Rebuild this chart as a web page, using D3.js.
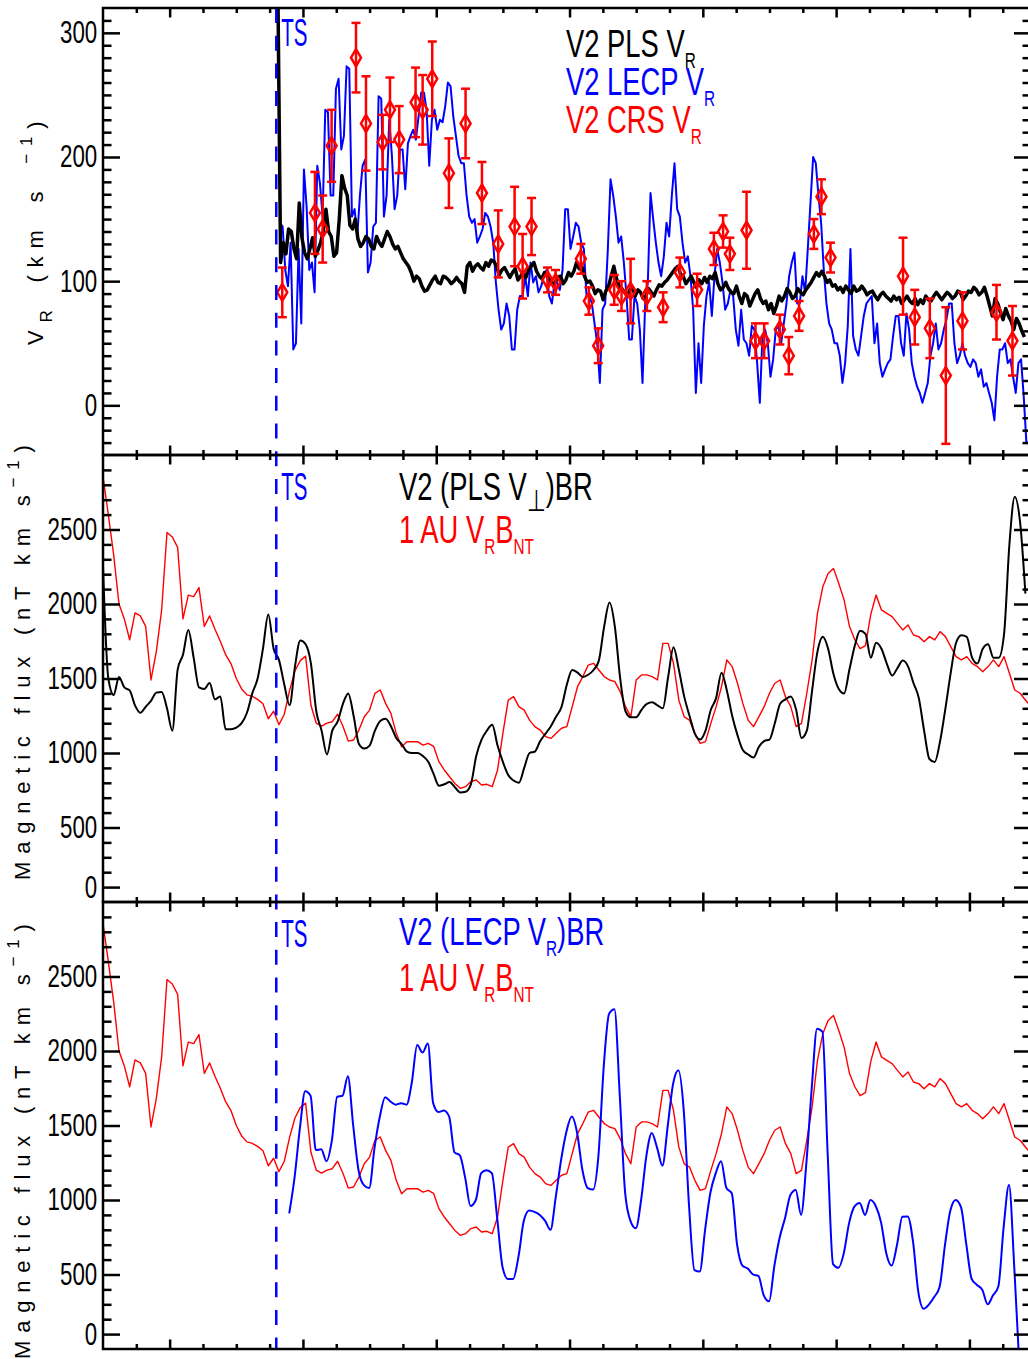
<!DOCTYPE html>
<html>
<head>
<meta charset="utf-8">
<script src="https://cdn.jsdelivr.net/npm/d3@7"></script>
<style>
  body { margin: 0; background: #fff; }
  .narrow { font-family: "Liberation Sans", Arial, sans-serif; }
  .title { font-family: "Liberation Sans", Arial, sans-serif; }
</style>
</head>
<body>
<svg id="chart" width="1028" height="1359"></svg>
<script>
// ---- data (time in years) ----
var tsTime = 2007.80;

// V2 PLS radial speed (km/s), one sample every 0.02 yr
var plsStart = 2007.8125, plsStep = 0.02;
var plsVR = [330, 115, 131, 122, 142, 140, 126, 118, 163, 135, 123, 118, 126, 135, 120, 125, 131, 140, 158, 140,
  136, 120, 123, 150, 185, 175, 169, 145, 142, 150, 134, 128, 131, 136, 134, 128, 126, 136, 131, 128,
  134, 140, 136, 130, 126, 128, 123, 118, 115, 112, 107, 100, 104, 102, 96, 92, 93, 97, 101, 104,
  99, 98, 104, 103, 101, 98, 100, 103, 100, 98, 91, 112, 115, 108, 112, 114, 111, 109, 115, 112,
  117, 116, 112, 105, 109, 111, 107, 103, 107, 110, 101, 104, 107, 103, 109, 112, 115, 108, 104, 102,
  107, 104, 101, 98, 99, 103, 104, 98, 101, 107, 104, 108, 115, 110, 112, 104, 99, 100, 96, 90,
  93, 92, 85, 92, 96, 104, 112, 102, 96, 94, 91, 88, 93, 95, 88, 93, 91, 86, 88,
  94, 91, 88, 93, 97, 96, 99, 101, 104, 107, 110, 112, 106, 104, 98, 101, 104, 99, 95, 101,
  98, 103, 99, 104, 102, 107, 98, 93, 95, 99, 94, 91, 90, 96, 88, 82, 90, 88, 80, 85,
  90, 93, 86, 82, 84, 77, 82, 74, 80, 88, 84, 88, 94, 91, 86, 88, 94, 91, 89, 93,
  96, 99, 103, 107, 104, 108, 104, 99, 101, 96, 97, 93, 95, 91, 96, 93, 90, 96, 92, 93,
  96, 93, 89, 91, 92, 88, 85, 89, 91, 88, 86, 84, 88, 85, 87, 82, 85, 88, 84, 82,
  86, 81, 85, 82, 88, 85, 84, 88, 91, 88, 85, 88, 91, 89, 86, 88, 92, 91, 85, 88,
  92, 91, 95, 93, 89, 91, 95, 88, 80, 72, 86, 82, 75, 69, 78, 72, 68, 61, 70, 66, 60, 55];

// V2 LECP radial speed (km/s), one sample every 0.02 yr
var lecpStart = 2007.8275, lecpStep = 0.02;
var lecpVR = [147, 144, 109, 96, 131, 45, 50, 126, 66, 190, 160, 109, 115, 91, 193, 179, 152, 238, 236, 169,
  169, 255, 263, 206, 217, 273, 271, 152, 158, 136, 169, 193, 198, 107, 115, 144, 147, 249, 247, 152,
  169, 230, 201, 158, 169, 206, 206, 174, 211, 217, 222, 214, 233, 252, 252, 238, 193, 230, 238, 222,
  230, 228, 241, 260, 257, 233, 217, 201, 195, 195, 169, 152, 147, 150, 131, 136, 142, 155, 152, 144,
  131, 99, 77, 61, 66, 82, 72, 45, 45, 77, 88, 88, 104, 88, 115, 99, 104, 91, 96, 104,
  109, 88, 82, 99, 99, 93, 109, 158, 158, 126, 136, 147, 144, 131, 126, 88, 88, 82, 66, 50,
  18, 77, 82, 126, 182, 169, 152, 131, 136, 115, 88, 53, 53, 88, 82, 61, 18, 82, 99,
  171, 150, 131, 115, 104, 120, 147, 136, 169, 195, 158, 152, 131, 115, 120, 104, 77, 10, 50, 18,
  64, 88, 99, 72, 104, 126, 115, 99, 77, 82, 93, 88, 61, 48, 77, 53, 50, 40, 64, 61,
  34, 2, 56, 61, 50, 23, 37, 61, 64, 50, 66, 82, 104, 115, 123, 82, 82, 104, 91, 126,
  163, 200, 195, 169, 147, 109, 82, 66, 61, 50, 50, 40, 18, 34, 64, 126, 56, 45, 40, 56,
  72, 82, 85, 88, 50, 66, 34, 23, 29, 34, 37, 56, 72, 72, 50, 40, 74, 61, 34, 23,
  15, 10, 2, 10, 18, 40, 50, 66, 45, 50, 61, 69, 82, 82, 50, 34, 40, 50, 40, 34,
  31, 37, 34, 23, 29, 15, 18, 10, 2, -12, 23, 45, 45, 50, 34, 37, 23, 10, 34, 37, 7, -30, -30, -30];

// V2 CRS radial speed with error bars
var crsTime = [2007.845, 2008.09, 2008.148, 2008.215, 2008.398, 2008.473, 2008.598, 2008.653, 2008.722, 2008.845,
  2008.898, 2008.97, 2009.095, 2009.22, 2009.343, 2009.465, 2009.588, 2009.648, 2009.715, 2009.835,
  2009.895, 2010.085, 2010.145, 2010.215, 2010.335, 2010.39, 2010.458, 2010.58, 2010.702, 2010.828,
  2010.957, 2011.083, 2011.152, 2011.203, 2011.328, 2011.395, 2011.46, 2011.578, 2011.645, 2011.722,
  2011.833, 2011.89, 2011.958, 2012.502, 2012.59, 2012.703, 2012.823, 2012.948, 2013.203, 2013.323];
var crsVR = [91, 155, 142, 209, 280, 227, 212, 238, 214, 244,
  238, 263, 187, 227, 171, 130, 144, 112, 144, 101,
  99, 118, 84, 48, 93, 88, 92, 88, 79, 107,
  93, 126, 140, 122, 141, 52, 52, 61, 40, 72,
  138, 168, 119, 104, 71, 62, 24, 68, 75, 52];
var crsErr = [20, 33, 27, 29, 28, 38, 22, 26, 27, 28,
  28, 30, 28, 28, 25, 27, 32, 26, 23, 10,
  10, 12, 11, 14, 12, 12, 26, 12, 12, 12,
  13, 13, 13, 13, 31, 14, 14, 12, 15, 12,
  12, 14, 12, 31, 22, 24, 55, 23, 22, 28];

// magnetic flux (nT km/s), one sample every 0.04 yr
var fluxStep = 0.04;
var fluxStart = 2006.5;
var plsPerpBR = [2250, 1500, 1390, 1510, 1440, 1420, 1320, 1270, 1310, 1350, 1405, 1410, 1300, 1150, 1560, 1660, 1825, 1640, 1440, 1430,
  1470, 1360, 1380, 1160, 1160, 1170, 1200, 1270, 1400, 1500, 1700, 1930, 1700, 1625, 1460, 1320, 1580, 1755, 1730, 1600,
  1280, 1150, 990, 1150, 1210, 1330, 1400,
  1250, 1060, 1030, 1050, 1150, 1215, 1230, 1180, 1100, 1060, 1010, 1000, 1000, 980, 942, 860, 780, 790, 805, 770,
  735, 740, 790, 980, 1090, 1150, 1190, 1050, 940, 852, 815, 800, 900, 1000, 1010, 1080, 1130, 1180, 1245, 1310,
  1460, 1557, 1540, 1510, 1525, 1557, 1620, 1850, 2010, 1848, 1500, 1280, 1240, 1240, 1290, 1330, 1340, 1320, 1300, 1512,
  1710, 1560, 1380, 1250, 1130, 1090, 1150, 1290, 1370, 1539, 1420, 1250, 1120, 1020, 990, 970, 1040, 1080, 1090, 1200,
  1330, 1360, 1380, 1290, 1100, 1150, 1420, 1680, 1780, 1700, 1530, 1430, 1400, 1560, 1720, 1820, 1800, 1640, 1740, 1700,
  1600, 1520, 1570, 1620, 1580, 1470, 1370, 1150, 960, 940, 1080, 1300, 1540, 1740, 1790, 1780, 1640, 1600, 1700, 1730,
  1640, 1640, 1800, 2400, 2720, 2550, 2070];

var au1VRBNT = [2855, 2600, 2330, 2000, 1900, 1760, 1940, 1920, 1850, 1490, 1680, 1960, 2480, 2450, 2380, 1900, 2060, 2050, 2110, 1850,
  1920, 1830, 1750, 1660, 1600, 1500, 1430, 1390, 1380, 1360, 1330, 1230, 1280, 1190, 1260, 1420, 1550, 1620, 1650, 1320,
  1200, 1180, 1200, 1210, 1260, 1180, 1080,
  1087, 1154, 1243, 1288, 1400, 1423, 1333, 1266, 1132, 1042, 1076, 1076, 1076, 1053, 1065, 1045, 942, 886, 841, 796,
  763, 774, 808, 819, 785, 790, 774, 886, 1132, 1355, 1378, 1311, 1288, 1221, 1177, 1154, 1110, 1098, 1132, 1166,
  1177, 1311, 1445, 1513, 1590, 1602, 1557, 1513, 1490, 1479, 1412, 1311, 1243, 1490, 1524, 1524, 1513, 1490, 1736, 1736,
  1602, 1355, 1243, 1221, 1132, 1065, 1076, 1199, 1311, 1445, 1625, 1580, 1468, 1333, 1221, 1177, 1243, 1311, 1401, 1468,
  1490, 1378, 1311, 1177, 1199, 1401, 1625, 1937, 2115, 2205, 2239, 2138, 2026, 1850, 1760, 1700, 1720, 1930, 2060, 1960,
  1937, 1915, 1870, 1826, 1859, 1792, 1781, 1747, 1781, 1759, 1815, 1781, 1714, 1647, 1625, 1647, 1602, 1580, 1546, 1580,
  1625, 1580, 1647, 1535, 1423, 1401, 1356, 1311];

var lecpStartBR = 2007.897;
var lecpVRBR = [910, 1150, 1480, 1730, 1700, 1335, 1340, 1260, 1400, 1693, 1700, 1830, 1500, 1200, 1100, 1080, 1350, 1560, 1690, 1660,
  1640, 1650, 1640, 1790, 2040, 1990, 2050, 1650, 1590, 1600, 1559, 1320, 1300, 1150, 960, 1000, 1180, 1200, 1180, 880,
  552, 470, 470, 620, 860, 930, 920, 900, 860, 800, 1022, 1270, 1460, 1560, 1450, 1200, 1080, 1070, 1300, 1900,
  2250, 2280, 1700, 1050, 860, 810, 1000, 1300, 1450, 1350, 1230, 1500, 1780, 1870, 1600, 955, 530, 520, 800, 1050,
  1180, 1260, 1080, 1045, 700, 560, 540, 500, 490, 360, 320, 560, 750, 880, 1033, 1067, 900, 1250, 1750, 2150,
  2130, 1300, 570, 545, 640, 843, 955, 980, 900, 1000, 960, 850, 640, 560, 700, 888, 890, 720, 380, 270,
  300, 350, 420, 700, 930, 1000, 950, 700, 470, 430, 396, 300, 360, 420, 820, 1100, 540, -150];

// ticks
var xMajorTicks = [2007, 2008, 2009, 2010, 2011, 2012, 2013];
var vrTickVals = [0, 100, 200, 300];
var vrTickLabels = ["0", "100", "200", "300"];
var fluxTickVals = [100, 500, 1000, 1500, 2000, 2500];
var fluxTickLabels = ["0", "500", "1000", "1500", "2000", "2500"];

// ---- layout ----
var L = 103, R = 1031;
var panels = [{ top: 8, bottom: 455 }, { top: 455, bottom: 902 }, { top: 902, bottom: 1349 }];
var SX = 0.72;

var svg = d3.select('#chart');

var x = d3.scaleLinear().domain([2006.5, 2013.462]).range([L, R]);
var yVR = d3.scaleLinear().domain([-40, 320]).range([panels[0].bottom, panels[0].top]);
var yMid = d3.scaleLinear().domain([0, 3000]).range([panels[1].bottom, panels[1].top]);
var yBot = d3.scaleLinear().domain([0, 3000]).range([panels[2].bottom, panels[2].top]);

var xMinorTicks = d3.range(2006.75, 2013.45, 0.25).filter(function (d) { return Math.abs(d - Math.round(d)) > 0.01; });

function series(start, dt, vals) {
  return vals.map(function (v, i) { return [start + i * dt, v]; });
}

// clip paths
var defs = svg.append('defs');
panels.forEach(function (p, i) {
  defs.append('clipPath').attr('id', 'clip' + i)
    .append('rect').attr('x', L).attr('y', p.top).attr('width', R - L).attr('height', p.bottom - p.top);
});

function drawLine(i, y, data, color, width, curve) {
  var line = d3.line().curve(curve || d3.curveLinear)
    .x(function (d) { return x(d[0]); }).y(function (d) { return y(d[1]); });
  svg.append('path').datum(data)
    .attr('clip-path', 'url(#clip' + i + ')')
    .attr('d', line)
    .style('fill', 'none')
    .style('stroke', color)
    .style('stroke-width', width)
    .style('stroke-linejoin', 'round');
}

// panel 1
drawLine(0, yVR, series(lecpStart, lecpStep, lecpVR), '#0000ff', 2);
drawLine(0, yVR, series(plsStart, plsStep, plsVR), '#000000', 3.5);

var crs = crsTime.map(function (t, i) { return { t: t, v: crsVR[i], e: crsErr[i] }; });
var crsG = svg.append('g').attr('clip-path', 'url(#clip0)')
  .style('stroke', '#ff0000').style('stroke-width', 2.5).style('fill', 'none');
crsG.selectAll('line.bar').data(crs).enter().append('line')
  .attr('x1', function (d) { return x(d.t); }).attr('x2', function (d) { return x(d.t); })
  .attr('y1', function (d) { return yVR(d.v - d.e); }).attr('y2', function (d) { return yVR(d.v + d.e); });
crsG.selectAll('line.capl').data(crs).enter().append('line')
  .attr('x1', function (d) { return x(d.t) - 4.5; }).attr('x2', function (d) { return x(d.t) + 4.5; })
  .attr('y1', function (d) { return yVR(d.v - d.e); }).attr('y2', function (d) { return yVR(d.v - d.e); });
crsG.selectAll('line.caph').data(crs).enter().append('line')
  .attr('x1', function (d) { return x(d.t) - 4.5; }).attr('x2', function (d) { return x(d.t) + 4.5; })
  .attr('y1', function (d) { return yVR(d.v + d.e); }).attr('y2', function (d) { return yVR(d.v + d.e); });
crsG.selectAll('path').data(crs).enter().append('path')
  .attr('d', function (d) {
    var cx = x(d.t), cy = yVR(d.v);
    return 'M' + cx + ',' + (cy - 8.5) + 'L' + (cx + 5) + ',' + cy + 'L' + cx + ',' + (cy + 8.5) + 'L' + (cx - 5) + ',' + cy + 'Z';
  });

// panel 2
drawLine(1, yMid, series(fluxStart, fluxStep, au1VRBNT), '#ff0000', 1.4);
drawLine(1, yMid, series(fluxStart, fluxStep, plsPerpBR), '#000000', 2, d3.curveMonotoneX);

// panel 3
drawLine(2, yBot, series(fluxStart, fluxStep, au1VRBNT), '#ff0000', 1.4);
drawLine(2, yBot, series(lecpStartBR, fluxStep, lecpVRBR), '#0000ff', 2, d3.curveMonotoneX);

// TS line
svg.append('line')
  .attr('x1', x(tsTime)).attr('x2', x(tsTime))
  .attr('y1', panels[0].top).attr('y2', panels[2].bottom)
  .style('stroke', '#0000ff').style('stroke-width', 2.5).style('stroke-dasharray', '15,12.7');

// axes
function styleAxis(g) {
  g.select('.domain').remove();
  g.selectAll('.tick line').style('stroke', '#000').style('stroke-width', 2.5);
}

function drawAxes(p, y, minor, major, labels) {
  svg.append('g').attr('transform', 'translate(' + L + ',0)')
    .call(d3.axisLeft(y).tickValues(minor).tickSize(-8.5).tickFormat('')).call(styleAxis);
  var lab = svg.append('g').attr('transform', 'translate(' + L + ',0)')
    .call(d3.axisLeft(y).tickValues(major).tickSize(-17).tickPadding(8)
      .tickFormat(function (d, i) { return labels[i]; }))
    .call(styleAxis);
  lab.attr('font-family', null).attr('font-size', null);
  lab.selectAll('text').attr('class', 'narrow').style('font-size', '31px').style('fill', '#000')
    .attr('transform', 'scale(' + SX + ',1)');

  svg.append('g').attr('transform', 'translate(' + R + ',0)')
    .call(d3.axisRight(y).tickValues(minor).tickSize(-8.5).tickFormat('')).call(styleAxis);
  svg.append('g').attr('transform', 'translate(' + R + ',0)')
    .call(d3.axisRight(y).tickValues(major).tickSize(-17).tickFormat('')).call(styleAxis);

  svg.append('g').attr('transform', 'translate(0,' + p.bottom + ')')
    .call(d3.axisBottom(x).tickValues(xMinorTicks).tickSize(-5).tickFormat('')).call(styleAxis);
  svg.append('g').attr('transform', 'translate(0,' + p.bottom + ')')
    .call(d3.axisBottom(x).tickValues(xMajorTicks).tickSize(-9.5).tickFormat('')).call(styleAxis);
  svg.append('g').attr('transform', 'translate(0,' + p.top + ')')
    .call(d3.axisTop(x).tickValues(xMinorTicks).tickSize(-5).tickFormat('')).call(styleAxis);
  svg.append('g').attr('transform', 'translate(0,' + p.top + ')')
    .call(d3.axisTop(x).tickValues(xMajorTicks).tickSize(-9.5).tickFormat('')).call(styleAxis);

  svg.append('rect').attr('x', L).attr('y', p.top).attr('width', R - L).attr('height', p.bottom - p.top)
    .style('fill', 'none').style('stroke', '#000').style('stroke-width', 2.5);
}

drawAxes(panels[0], yVR, d3.range(-30, 320, 10).filter(function (d) { return d % 100 !== 0; }), vrTickVals, vrTickLabels);
drawAxes(panels[1], yMid, d3.range(100, 3000, 100).filter(function (d) { return d % 500 !== 0 && d !== 100; }), fluxTickVals, fluxTickLabels);
drawAxes(panels[2], yBot, d3.range(100, 3000, 100).filter(function (d) { return d % 500 !== 0 && d !== 100; }), fluxTickVals, fluxTickLabels);

// rich text with sub/superscripts; part = [text, kind, optional size]
function richText(px, py, parts, size, color, sx) {
  var t = svg.append('text').attr('class', 'narrow')
    .attr('transform', 'translate(' + px + ',' + py + ') scale(' + sx + ',1)')
    .style('font-size', size + 'px').style('fill', color);
  var shift = 0;
  parts.forEach(function (p) {
    var target = p[1] === 'sub' ? size * 0.29 : 0;
    var fs = p[2] || (p[1] === 'sub' ? size * 0.56 : size);
    t.append('tspan').attr('dy', target - shift)
      .style('font-size', fs + 'px')
      .text(p[0]);
    shift = target;
  });
  return t;
}

// legends
richText(566, 57, [['V2 PLS V'], ['R', 'sub']], 38, '#000', SX);
richText(566, 95, [['V2 LECP V'], ['R', 'sub']], 38, '#0000ff', SX);
richText(566, 133, [['V2 CRS V'], ['R', 'sub']], 38, '#ff0000', SX);

richText(399, 500, [['V2 (PLS V'], ['\u22a5', 'sub', 30], [')BR']], 38, '#000', SX);
richText(399, 543, [['1 AU V'], ['R', 'sub'], ['B'], ['NT', 'sub']], 38, '#ff0000', SX);

richText(399, 945, [['V2 (LECP V'], ['R', 'sub'], [')BR']], 38, '#0000ff', SX);
richText(399, 991, [['1 AU V'], ['R', 'sub'], ['B'], ['NT', 'sub']], 38, '#ff0000', SX);

[46, 500, 947].forEach(function (yy) {
  richText(x(tsTime) + 5, yy, [['TS']], 38, '#0000ff', 0.54);
});

// axis titles (rotated)
function vTitle(px, py, parts, wordGap) {
  var t = svg.append('text').attr('class', 'title')
    .attr('transform', 'translate(' + px + ',' + py + ') rotate(-90)')
    .style('font-size', '22px').style('letter-spacing', '7.8px')
    .style('word-spacing', wordGap + 'px').style('fill', '#000');
  var shift = 0;
  parts.forEach(function (p) {
    var target = p[1] === 'sub' ? 9 : (p[1] === 'sup' ? -11 : 0);
    t.append('tspan').attr('dy', target - shift)
      .style('font-size', (p[1] === 'sub' || p[1] === 'sup' ? 17 : 22) + 'px')
      .text(p[0]);
    shift = target;
  });
}
vTitle(43, 345, [['V'], ['R', 'sub'], [' (km s '], ['\u22121', 'sup'], [')']], 6);
vTitle(30, 880, [['Magnetic flux (nT km s'], ['\u22121', 'sup'], [')']], 0);
vTitle(30, 1359, [['Magnetic flux (nT km s'], ['\u22121', 'sup'], [')']], 0);
</script>
</body>
</html>
